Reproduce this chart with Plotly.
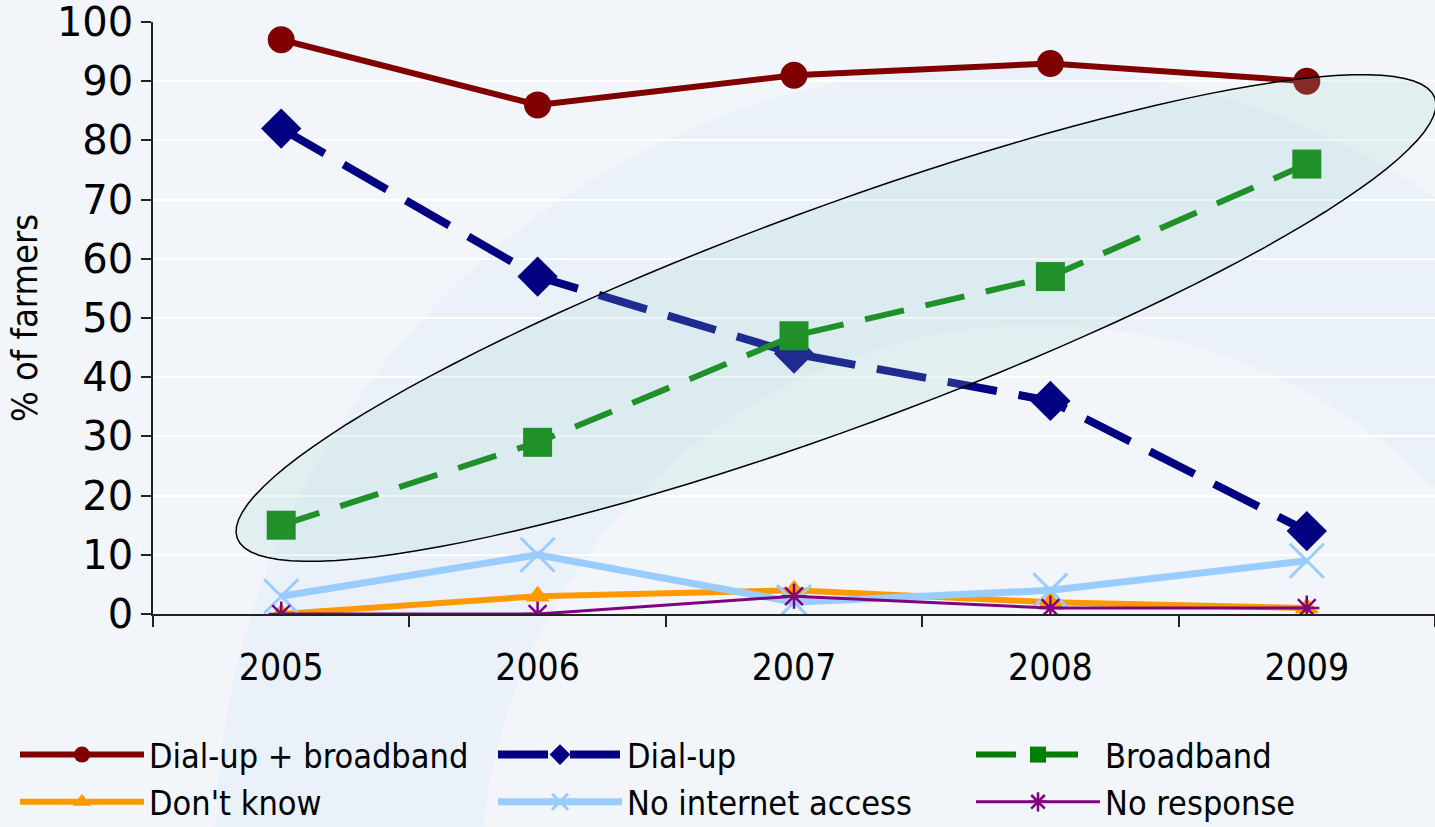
import numpy as np
import plotly.graph_objects as go

years = [2005, 2006, 2007, 2008, 2009]
dialup_broadband = [97, 86, 91, 93, 90]
dialup = [82, 57, 44, 36, 14]
broadband = [15, 29, 47, 57, 76]
dont_know = [0, 3, 4, 2, 1]
no_internet = [3, 10, 2, 4, 9]
no_response = [0, 0, 3, 1, 1]

W, H = 1435, 827
ML, MR, MT, MB = 153, 0, 22, 213
PW, PH = W - ML - MR, H - MT - MB
X0, X1 = 2004.5, 2009.5
Y0, Y1 = 0, 100

BG = "#f2f6fa"
fig = go.Figure()

def add(name, y, color, width, dash, symbol, size, mline=0, mcolor=None):
    fig.add_trace(go.Scatter(
        x=years, y=y, name=name, mode="lines+markers",
        line=dict(color=color, width=width, dash=dash),
        marker=dict(symbol=symbol, size=size, color=mcolor or color,
                    line=dict(color=color, width=mline)),
    ))

add("Dial-up + broadband", dialup_broadband, "#800000", 6, "solid", "circle", 27)
add("Dial-up", dialup, "#000080", 8, "50px,22px", "diamond", 31)
add("Broadband", broadband, "#008000", 6, "40px,22px", "square", 29)
add("Don't know", dont_know, "#ff9900", 6, "solid", "triangle-up", 21)
add("No internet access", no_internet, "#99ccff", 7, "solid", "x-thin-open", 34, mline=3)
add("No response", no_response, "#800080", 3, "solid", "asterisk-open", 21, mline=2.5)

def px2paper(px, py):
    return (px - ML) / PW, (MT + PH - py) / PH

# faint decorative background swirl (paper-referenced band between two circles)
def circle_pts(cx, cy, r, reverse=False, n=120):
    t = np.linspace(0, 2 * np.pi, n)
    if reverse:
        t = t[::-1]
    return [px2paper(cx + r * np.cos(a), cy + r * np.sin(a)) for a in t]

outer = circle_pts(1000, 850, 785)
inner = circle_pts(1040, 885, 560, reverse=True)
band = ("M " + " L ".join(f"{u:.4f},{v:.4f}" for u, v in outer) + " Z "
        + "M " + " L ".join(f"{u:.4f},{v:.4f}" for u, v in inner) + " Z")
fig.add_shape(type="path", path=band, xref="paper", yref="paper", layer="below",
              fillcolor="#eaf1f9", line=dict(width=0))

# highlight ellipse (annotation shape) around the broadband series
cx, cy, a, b, th = 836, 318, 638, 110, np.deg2rad(20.2)
t = np.linspace(0, 2 * np.pi, 121)
ex = cx + a * np.cos(t) * np.cos(th) - b * np.sin(t) * np.sin(th)
ey = cy - (a * np.cos(t) * np.sin(th) + b * np.sin(t) * np.cos(th))
xd = X0 + (ex - ML) / PW * (X1 - X0)
yd = Y0 + (MT + PH - ey) / PH * (Y1 - Y0)
path = "M " + " L ".join(f"{u:.4f},{v:.4f}" for u, v in zip(xd, yd)) + " Z"
fig.add_shape(type="path", path=path, xref="x", yref="y", layer="above",
              fillcolor="rgba(160,215,205,0.2)", line=dict(color="black", width=1.5))

fig.update_layout(
    width=W, height=H,
    margin=dict(l=ML, r=MR, t=MT, b=MB, pad=0, autoexpand=False),
    paper_bgcolor=BG, plot_bgcolor="rgba(0,0,0,0)",
    showlegend=True,
    legend=dict(orientation="h", x=(15 - ML) / PW, xanchor="left",
                y=-(726 - (MT + PH)) / PH, yanchor="top",
                font=dict(family="DejaVu Sans Condensed, DejaVu Sans", size=34, color="black"),
                itemwidth=124, entrywidth=339, entrywidthmode="pixels",
                bgcolor="rgba(0,0,0,0)", traceorder="normal"),
    xaxis=dict(range=[X0, X1], tickvals=years, ticktext=[str(y) for y in years],
               ticks="", showgrid=False, zeroline=False, automargin=False,
               showline=True, linecolor="#222222", linewidth=2,
               ticklabelstandoff=20, ticklabeloverflow="allow",
               tickfont=dict(family="DejaVu Sans Condensed, DejaVu Sans", size=37, color="black"),
               minor=dict(tickvals=[2004.5, 2005.5, 2006.5, 2007.5, 2008.5, 2009.5],
                          ticks="outside", ticklen=11, tickwidth=1.5, tickcolor="#222222",
                          showgrid=False)),
    yaxis=dict(range=[Y0, Y1], tickvals=list(range(0, 101, 10)),
               ticks="outside", ticklen=10, tickwidth=1.5, tickcolor="#222222",
               showline=True, linecolor="#222222", linewidth=1.5, automargin=False,
               showgrid=True, gridcolor="white", gridwidth=2, zeroline=False,
               ticklabeloverflow="allow",
               tickfont=dict(family="DejaVu Sans", size=40, color="black"),
               title=dict(text="% of farmers", standoff=8,
                          font=dict(family="DejaVu Sans Condensed, DejaVu Sans", size=36, color="black"))),
)

fig.write_html("out.html", config={"displayModeBar": False},
               post_script="document.body.style.margin='0';")
